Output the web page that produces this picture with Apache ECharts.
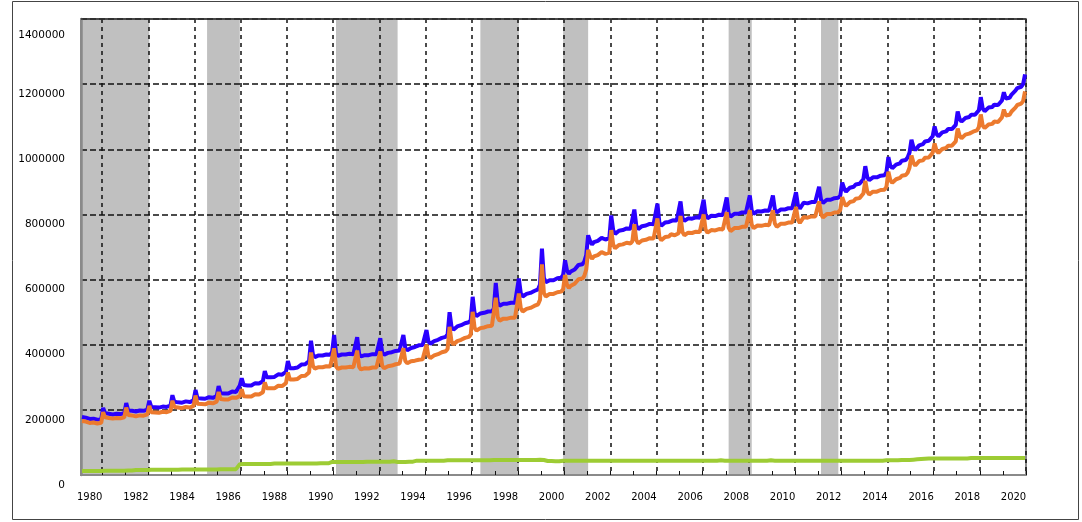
<!DOCTYPE html>
<html>
<head>
<meta charset="utf-8">
<script src="https://cdn.jsdelivr.net/npm/echarts@6/dist/echarts.min.js"></script>
<style>
html,body{margin:0;padding:0;background:#fff;}
#chart{width:1082px;height:522px;}
</style>
</head>
<body>
<div id="chart"></div>
<script>
// Monthly categories Jan 1980 .. Nov 2020
const startYear = 1980;
const monthCount = 491;
const months = [];
for (let i = 0; i < monthCount; i++) {
  const y = startYear + Math.floor(i / 12);
  const m = (i % 12) + 1;
  months.push(y + '-' + (m < 10 ? '0' + m : '' + m));
}

const yTicks = [0, 200000, 400000, 600000, 800000, 1000000, 1200000, 1400000];

// Shaded periods (start month, end month)
const shadedPeriods = [
  ['1980-01', '1982-12'],
  ['1985-06', '1986-11'],
  ['1991-01', '1993-09'],
  ['1997-04', '1998-12'],
  ['2000-11', '2001-12'],
  ['2008-01', '2009-01'],
  ['2012-01', '2012-10']
];

// Blue series (total)
const blueValues = [
178e3,175e3,176e3,174e3,172e3,171e3,173e3,172e3,170e3,170e3,172e3,206e3,
190e3,186e3,188e3,187e3,186e3,186e3,188e3,188e3,187e3,187e3,190e3,221e3,
198e3,195e3,197e3,196e3,195e3,196e3,198e3,198e3,197e3,198e3,201e3,228e3,
209e3,206e3,208e3,208e3,207e3,208e3,210e3,210e3,209e3,210e3,213e3,245e3,
225e3,221e3,223e3,223e3,222e3,223e3,226e3,225e3,224e3,225e3,229e3,261e3,
236e3,232e3,235e3,235e3,234e3,236e3,239e3,238e3,237e3,238e3,242e3,273e3,
251e3,247e3,250e3,251e3,250e3,252e3,256e3,255e3,255e3,256e3,275e3,297e3,
276e3,271e3,275e3,276e3,275e3,278e3,282e3,282e3,281e3,283e3,288e3,319e3,
300e3,296e3,300e3,302e3,301e3,304e3,309e3,309e3,308e3,311e3,317e3,350e3,
328e3,323e3,328e3,330e3,330e3,334e3,339e3,340e3,340e3,343e3,350e3,412e3,
370e3,362e3,366e3,367e3,365e3,367e3,371e3,370e3,368e3,369e3,378e3,430e3,
374e3,366e3,369e3,370e3,368e3,370e3,373e3,372e3,370e3,371e3,374e3,423e3,
372e3,364e3,367e3,368e3,366e3,368e3,372e3,371e3,370e3,371e3,375e3,420e3,
376e3,369e3,373e3,375e3,374e3,377e3,381e3,381e3,380e3,382e3,387e3,430e3,
390e3,383e3,388e3,390e3,390e3,393e3,398e3,398e3,397e3,399e3,405e3,445e3,
410e3,403e3,408e3,411e3,411e3,415e3,421e3,421e3,421e3,424e3,432e3,500e3,
455e3,446e3,452e3,456e3,456e3,460e3,466e3,466e3,466e3,469e3,476e3,547e3,
497e3,488e3,493e3,496e3,495e3,498e3,503e3,502e3,501e3,503e3,510e3,590e3,
530e3,520e3,524e3,526e3,524e3,526e3,530e3,529e3,527e3,529e3,535e3,603e3,
558e3,548e3,553e3,556e3,555e3,559e3,565e3,565e3,566e3,570e3,585e3,695e3,
605e3,592e3,596e3,598e3,596e3,598e3,604e3,604e3,603e3,606e3,614e3,659e3,
628e3,618e3,625e3,630e3,631e3,636e3,645e3,646e3,647e3,655e3,675e3,736e3,
718e3,708e3,715e3,720e3,719e3,722e3,728e3,726e3,723e3,722e3,727e3,797e3,
752e3,740e3,746e3,750e3,749e3,752e3,758e3,757e3,755e3,756e3,762e3,815e3,
766e3,755e3,760e3,764e3,763e3,766e3,772e3,771e3,769e3,770e3,775e3,833e3,
775e3,765e3,770e3,775e3,774e3,777e3,783e3,782e3,780e3,781e3,786e3,840e3,
790e3,780e3,784e3,788e3,786e3,787e3,792e3,791e3,789e3,790e3,795e3,845e3,
798e3,788e3,792e3,796e3,794e3,795e3,800e3,799e3,797e3,798e3,803e3,852e3,
803e3,793e3,798e3,802e3,800e3,802e3,807e3,806e3,804e3,806e3,812e3,858e3,
812e3,802e3,806e3,810e3,807e3,809e3,813e3,812e3,810e3,811e3,816e3,858e3,
816e3,806e3,811e3,815e3,813e3,815e3,820e3,819e3,817e3,819e3,825e3,868e3,
828e3,818e3,823e3,836e3,833e3,834e3,839e3,838e3,836e3,838e3,844e3,885e3,
845e3,835e3,840e3,845e3,843e3,845e3,850e3,850e3,848e3,851e3,858e3,898e3,
880e3,870e3,876e3,882e3,882e3,885e3,892e3,893e3,894e3,898e3,908e3,948e3,
915e3,905e3,910e3,914e3,912e3,914e3,920e3,919e3,917e3,920e3,930e3,976e3,
950e3,942e3,948e3,953e3,953e3,957e3,965e3,966e3,967e3,975e3,990e3,1029e3,
1006e3,998e3,1005e3,1012e3,1012e3,1016e3,1024e3,1025e3,1026e3,1030e3,1040e3,1070e3,
1047e3,1040e3,1046e3,1052e3,1052e3,1055e3,1062e3,1062e3,1062e3,1066e3,1075e3,1116e3,
1093e3,1085e3,1090e3,1096e3,1096e3,1099e3,1106e3,1106e3,1106e3,1110e3,1120e3,1160e3,
1125e3,1117e3,1122e3,1128e3,1127e3,1130e3,1137e3,1137e3,1136e3,1141e3,1150e3,1175e3,
1156e3,1150e3,1158e3,1168e3,1172e3,1180e3,1188e3,1190e3,1192e3,1200e3,1230e3
];

// Orange series
const orangeValues = [
166e3,163e3,164e3,162e3,160e3,159e3,161e3,160e3,158e3,158e3,160e3,193e3,
177e3,173e3,175e3,174e3,173e3,173e3,175e3,175e3,174e3,174e3,177e3,207e3,
184e3,181e3,183e3,182e3,180e3,181e3,183e3,183e3,182e3,183e3,186e3,212e3,
193e3,190e3,192e3,192e3,191e3,192e3,194e3,194e3,193e3,194e3,197e3,228e3,
209e3,205e3,207e3,207e3,205e3,206e3,209e3,208e3,207e3,208e3,212e3,244e3,
219e3,215e3,218e3,218e3,217e3,219e3,222e3,221e3,220e3,221e3,225e3,255e3,
233e3,229e3,232e3,233e3,232e3,234e3,238e3,237e3,237e3,238e3,242e3,263e3,
242e3,237e3,241e3,242e3,241e3,244e3,248e3,248e3,247e3,249e3,254e3,284e3,
266e3,262e3,266e3,268e3,266e3,269e3,274e3,274e3,273e3,276e3,282e3,315e3,
293e3,288e3,293e3,295e3,295e3,299e3,304e3,305e3,305e3,308e3,315e3,376e3,
335e3,327e3,331e3,331e3,329e3,331e3,335e3,334e3,332e3,333e3,338e3,389e3,
334e3,326e3,329e3,330e3,328e3,330e3,333e3,332e3,330e3,331e3,334e3,382e3,
332e3,324e3,327e3,328e3,325e3,327e3,331e3,330e3,329e3,330e3,334e3,379e3,
335e3,328e3,332e3,334e3,333e3,336e3,339e3,340e3,340e3,342e3,347e3,389e3,
350e3,343e3,347e3,349e3,349e3,351e3,354e3,354e3,353e3,355e3,361e3,400e3,
366e3,359e3,364e3,367e3,367e3,371e3,377e3,377e3,377e3,380e3,387e3,455e3,
410e3,401e3,407e3,411e3,411e3,415e3,421e3,421e3,421e3,424e3,431e3,501e3,
452e3,443e3,448e3,451e3,450e3,453e3,458e3,457e3,456e3,458e3,464e3,544e3,
484e3,474e3,478e3,480e3,478e3,480e3,484e3,483e3,481e3,483e3,489e3,557e3,
512e3,502e3,507e3,510e3,509e3,513e3,519e3,519e3,520e3,524e3,538e3,647e3,
559e3,548e3,553e3,556e3,553e3,556e3,562e3,561e3,561e3,563e3,570e3,614e3,
584e3,574e3,581e3,586e3,587e3,592e3,601e3,602e3,603e3,611e3,631e3,691e3,
674e3,664e3,671e3,676e3,675e3,678e3,684e3,682e3,679e3,678e3,683e3,752e3,
708e3,696e3,702e3,706e3,705e3,708e3,714e3,713e3,711e3,711e3,718e3,770e3,
722e3,711e3,716e3,720e3,719e3,722e3,728e3,727e3,725e3,726e3,731e3,788e3,
731e3,721e3,726e3,731e3,730e3,732e3,739e3,738e3,736e3,737e3,742e3,795e3,
746e3,736e3,740e3,744e3,742e3,743e3,748e3,747e3,745e3,746e3,751e3,800e3,
754e3,744e3,748e3,752e3,750e3,751e3,756e3,755e3,752e3,754e3,759e3,807e3,
759e3,749e3,754e3,758e3,756e3,758e3,763e3,762e3,760e3,762e3,768e3,813e3,
768e3,758e3,762e3,766e3,763e3,765e3,769e3,768e3,766e3,767e3,771e3,813e3,
772e3,762e3,767e3,771e3,769e3,771e3,776e3,775e3,773e3,775e3,781e3,823e3,
784e3,774e3,779e3,792e3,789e3,790e3,795e3,794e3,792e3,794e3,800e3,840e3,
801e3,791e3,796e3,801e3,799e3,801e3,806e3,806e3,804e3,807e3,814e3,853e3,
836e3,826e3,832e3,838e3,838e3,841e3,848e3,849e3,850e3,854e3,864e3,903e3,
871e3,861e3,866e3,870e3,868e3,870e3,876e3,875e3,873e3,876e3,885e3,931e3,
905e3,897e3,903e3,908e3,908e3,912e3,919e3,919e3,921e3,928e3,944e3,981e3,
959e3,950e3,957e3,964e3,963e3,966e3,974e3,974e3,975e3,979e3,989e3,1018e3,
996e3,989e3,995e3,1001e3,1001e3,1004e3,1011e3,1010e3,1011e3,1015e3,1024e3,1064e3,
1042e3,1034e3,1039e3,1045e3,1045e3,1048e3,1054e3,1054e3,1054e3,1058e3,1068e3,1107e3,
1073e3,1065e3,1070e3,1076e3,1075e3,1078e3,1085e3,1085e3,1084e3,1089e3,1098e3,1122e3,
1104e3,1098e3,1106e3,1116e3,1120e3,1128e3,1136e3,1138e3,1140e3,1148e3,1178e3
];

// Green series
const greenValues = [
12e3,12e3,12e3,12e3,12e3,12e3,12e3,12e3,12e3,12e3,12e3,13e3,
13e3,13e3,13e3,13e3,13e3,13e3,13e3,13e3,13e3,13e3,13e3,14e3,
14e3,14e3,14e3,14e3,15e3,15e3,15e3,15e3,15e3,15e3,15e3,16e3,
16e3,16e3,16e3,16e3,16e3,16e3,16e3,16e3,16e3,16e3,16e3,17e3,
16e3,16e3,16e3,16e3,17e3,17e3,17e3,17e3,17e3,17e3,17e3,17e3,
17e3,17e3,17e3,17e3,17e3,17e3,17e3,17e3,17e3,17e3,17e3,18e3,
18e3,18e3,18e3,18e3,18e3,18e3,18e3,18e3,18e3,18e3,33e3,34e3,
34e3,34e3,34e3,34e3,34e3,34e3,34e3,34e3,34e3,34e3,34e3,35e3,
34e3,34e3,34e3,34e3,35e3,35e3,35e3,35e3,35e3,35e3,35e3,35e3,
35e3,35e3,35e3,35e3,35e3,35e3,35e3,35e3,35e3,35e3,35e3,36e3,
35e3,35e3,35e3,36e3,36e3,36e3,36e3,36e3,36e3,36e3,40e3,41e3,
40e3,40e3,40e3,40e3,40e3,40e3,40e3,40e3,40e3,40e3,40e3,41e3,
40e3,40e3,40e3,40e3,41e3,41e3,41e3,41e3,41e3,41e3,41e3,41e3,
41e3,41e3,41e3,41e3,41e3,41e3,42e3,41e3,40e3,40e3,40e3,41e3,
40e3,40e3,41e3,41e3,41e3,42e3,44e3,44e3,44e3,44e3,44e3,45e3,
44e3,44e3,44e3,44e3,44e3,44e3,44e3,44e3,44e3,44e3,45e3,45e3,
45e3,45e3,45e3,45e3,45e3,45e3,45e3,45e3,45e3,45e3,45e3,46e3,
45e3,45e3,45e3,45e3,45e3,45e3,45e3,45e3,45e3,45e3,46e3,46e3,
46e3,46e3,46e3,46e3,46e3,46e3,46e3,46e3,46e3,46e3,46e3,46e3,
46e3,46e3,46e3,46e3,46e3,46e3,46e3,46e3,46e3,46e3,47e3,48e3,
46e3,44e3,43e3,42e3,43e3,42e3,42e3,43e3,42e3,43e3,44e3,45e3,
44e3,44e3,44e3,44e3,44e3,44e3,44e3,44e3,44e3,44e3,44e3,45e3,
44e3,44e3,44e3,44e3,44e3,44e3,44e3,44e3,44e3,44e3,44e3,45e3,
44e3,44e3,44e3,44e3,44e3,44e3,44e3,44e3,44e3,45e3,44e3,45e3,
44e3,44e3,44e3,44e3,44e3,44e3,44e3,44e3,44e3,44e3,44e3,45e3,
44e3,44e3,44e3,44e3,44e3,45e3,44e3,44e3,44e3,44e3,44e3,45e3,
44e3,44e3,44e3,44e3,44e3,44e3,44e3,44e3,44e3,44e3,44e3,45e3,
44e3,44e3,44e3,44e3,44e3,44e3,44e3,44e3,45e3,44e3,44e3,45e3,
44e3,44e3,44e3,44e3,44e3,44e3,44e3,44e3,44e3,44e3,44e3,45e3,
44e3,44e3,44e3,44e3,44e3,44e3,44e3,44e3,44e3,44e3,45e3,45e3,
44e3,44e3,44e3,44e3,44e3,44e3,44e3,44e3,44e3,44e3,44e3,45e3,
44e3,44e3,44e3,44e3,44e3,44e3,44e3,44e3,44e3,44e3,44e3,45e3,
44e3,44e3,44e3,44e3,44e3,44e3,44e3,44e3,44e3,44e3,44e3,45e3,
44e3,44e3,44e3,44e3,44e3,44e3,44e3,44e3,44e3,44e3,44e3,45e3,
44e3,44e3,44e3,44e3,44e3,44e3,44e3,44e3,44e3,44e3,45e3,45e3,
45e3,45e3,45e3,45e3,45e3,45e3,46e3,47e3,46e3,47e3,46e3,48e3,
47e3,48e3,48e3,48e3,49e3,50e3,50e3,51e3,51e3,51e3,51e3,52e3,
51e3,51e3,51e3,51e3,51e3,51e3,51e3,52e3,51e3,51e3,51e3,52e3,
51e3,51e3,51e3,51e3,51e3,51e3,52e3,52e3,52e3,52e3,52e3,53e3,
52e3,52e3,52e3,52e3,52e3,52e3,52e3,52e3,52e3,52e3,52e3,53e3,
52e3,52e3,52e3,52e3,52e3,52e3,52e3,52e3,52e3,52e3,52e3
];

const chart = echarts.init(document.getElementById('chart'), null, {renderer: 'canvas'});

const option = {
  animation: false,
  backgroundColor: '#ffffff',
  textStyle: {fontFamily: 'DejaVu Sans'},
  grid: {left: 81, right: 56, top: 19, bottom: 47, show: true, borderColor: '#8a8a8a', borderWidth: 2},
  graphic: [
    {type: 'rect', shape: {x: 12.5, y: 1.5, width: 1066, height: 518}, style: {fill: 'none', stroke: '#444', lineWidth: 1}, silent: true, z: 100},
    {type: 'line', shape: {x1: 81, y1: 19, x2: 1026, y2: 19}, style: {stroke: '#333', lineWidth: 1.5}, silent: true, z: 100}
  ],
  xAxis: {
    type: 'category',
    data: months,
    boundaryGap: true,
    axisLine: {show: true, lineStyle: {color: '#8a8a8a', width: 2}},
    axisTick: {show: true, inside: true, length: 4, interval: function (i) { return i % 12 === 11; }, lineStyle: {color: '#111', width: 1}},
    axisLabel: {
      interval: function (i) { return i % 24 === 4; },
      formatter: function (v) { return v.substring(0, 4); },
      margin: 17, fontSize: 10, color: '#000', fontFamily: 'DejaVu Sans', hideOverlap: false
    },
    splitLine: {show: true, interval: function (i) { return i % 24 === 11; }, lineStyle: {type: [4, 4], color: '#111', width: 1.5}}
  },
  yAxis: {
    type: 'value',
    min: yTicks[0],
    max: yTicks[yTicks.length - 1],
    interval: yTicks[1] - yTicks[0],
    axisLine: {show: true, lineStyle: {color: '#8a8a8a', width: 2.5}},
    axisTick: {show: false},
    axisLabel: {
      margin: 16, color: '#000', fontSize: 10.5, fontFamily: 'DejaVu Sans',
      formatter: function (v) { return v === yTicks[yTicks.length - 1] ? '{t|' + v + '}' : '{n|' + v + '}'; },
      rich: {
        t: {padding: [32, 0, 0, 0], fontSize: 10.5, color: '#000', fontFamily: 'DejaVu Sans'},
        n: {padding: [20, 0, 0, 0], fontSize: 10.5, color: '#000', fontFamily: 'DejaVu Sans'}
      }
    },
    splitLine: {show: true, lineStyle: {type: [6, 3], color: '#111', width: 1.5}}
  },
  series: [
    {
      name: 'shade', type: 'line', data: [], z: -1, silent: true,
      markArea: {
        silent: true, z: -1,
        itemStyle: {color: '#c0c0c0', opacity: 1},
        data: shadedPeriods.map(function (p) { return [{xAxis: p[0]}, {xAxis: p[1]}]; })
      }
    },
    {name: 'green', type: 'line', data: greenValues, showSymbol: false, symbol: 'none', lineStyle: {color: '#9dcc34', width: 4}, itemStyle: {color: '#9dcc34'}},
    {name: 'blue', type: 'line', data: blueValues, showSymbol: false, symbol: 'none', lineStyle: {color: '#2a00ff', width: 4}, itemStyle: {color: '#2a00ff'}},
    {name: 'orange', type: 'line', data: orangeValues, showSymbol: false, symbol: 'none', lineStyle: {color: '#ec7a2e', width: 4}, itemStyle: {color: '#ec7a2e'}}
  ]
};
chart.setOption(option);
</script>
</body>
</html>
